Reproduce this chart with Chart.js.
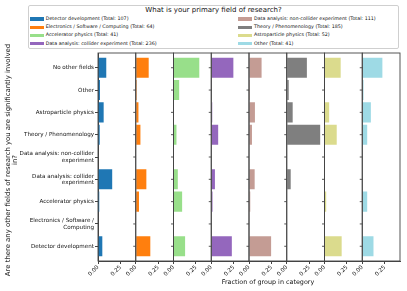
<!DOCTYPE html>
<html>
<head>
<meta charset="utf-8">
<script src="https://cdn.jsdelivr.net/npm/chart.js"></script>
<style>
  body { margin: 0; background: #fff; }
  #wrap { position: relative; width: 407px; height: 291px; font-family: "DejaVu Sans", sans-serif; color: #111; }
  #chart { position: absolute; left: 0; top: 0; }
  #legend { position: absolute; left: 28px; top: 5px; width: 371px; height: 44px; box-sizing: border-box;
            border: 1px solid #cfcfcf; border-radius: 2px; background: #fff; }
  #legend .ttl { position: absolute; left: 0; right: 0; top: 0.3px; height: 8px; line-height: 8px;
                 font-size: 7px; text-align: center; white-space: nowrap; }
  #legend .sw { position: absolute; width: 14px; height: 3.4px; }
  #legend .tx { position: absolute; height: 8px; line-height: 8px; font-size: 4.8px; white-space: nowrap; }
  #xtitle { position: absolute; left: 168px; width: 200px; top: 278px; height: 8px; line-height: 8px;
            font-size: 6.4px; text-align: center; white-space: nowrap; }
  #ytitle { position: absolute; left: 12px; top: 160px; width: 300px; transform: translate(-50%, -50%) rotate(-90deg);
            font-size: 6.9px; line-height: 7px; text-align: center; white-space: nowrap; }
</style>
</head>
<body>
<div id="wrap">
  <canvas id="chart" width="407" height="291"></canvas>
  <div id="legend"><div class="ttl">What is your primary field of research?</div></div>
  <div id="ytitle">Are there any other fields of research you are significantly involved<br>in?</div>
  <div id="xtitle">Fraction of group in category</div>
</div>
<script>
// rows, bottom to top (same order as matplotlib barh)
const categories = [
  "Detector development",
  "Electronics / Software / Computing",
  "Accelerator physics",
  "Data analysis: collider experiment",
  "Data analysis: non-collider experiment",
  "Theory / Phenomenology",
  "Astroparticle physics",
  "Other",
  "No other fields"
];
const yTickLabels = [
  ["Detector development"],
  ["Electronics / Software /", "Computing"],
  ["Accelerator physics"],
  ["Data analysis: collider", "experiment"],
  ["Data analysis: non-collider", "experiment"],
  ["Theory / Phenomenology"],
  ["Astroparticle physics"],
  ["Other"],
  ["No other fields"]
];

// primary field groups (one panel each)
const groups = [
  "Detector development",
  "Electronics / Software / Computing",
  "Accelerator physics",
  "Data analysis: collider experiment",
  "Data analysis: non-collider experiment",
  "Theory / Phenomenology",
  "Astroparticle physics",
  "Other"
];
const totals = [107, 64, 41, 236, 111, 185, 52, 41];
const colors = ["#1f77b4", "#ff7f0e", "#98df8a", "#9467bd", "#c49c94", "#7f7f7f", "#dbdb8d", "#9edae5"];

// fraction of group in category, rows bottom to top
const detectorDev = [0.048, 0, 0.014, 0.158, 0, 0.019, 0.063, 0.022, 0.092];
const electronics = [0.162, 0, 0.036, 0.118, 0, 0.052, 0.030, 0.011, 0.144];
const accelerator = [0.129, 0, 0.096, 0.048, 0, 0.033, 0, 0.063, 0.287];
const collider    = [0.229, 0, 0.014, 0.041, 0, 0.077, 0.011, 0.008, 0.246];
const nonCollider = [0.246, 0, 0.014, 0.063, 0, 0.033, 0.066, 0.011, 0.140];
const theory      = [0, 0, 0, 0.044, 0, 0.372, 0.066, 0.022, 0.224];
const astro       = [0.191, 0, 0.019, 0, 0, 0.136, 0.052, 0, 0.180];
const other       = [0.125, 0, 0.055, 0, 0, 0.055, 0.096, 0.014, 0.224];
const seriesValues = [detectorDev, electronics, accelerator, collider, nonCollider, theory, astro, other];

const xTicks = [0, 0.25];

const FONT = "DejaVu Sans";

// legend (two columns, filled column by column)
const legend = document.getElementById("legend");
const rowY = [13, 21.3, 29.3, 37.7];
groups.forEach((g, i) => {
  const col = Math.floor(i / 4), row = i % 4;
  const sw = document.createElement("div");
  sw.className = "sw";
  sw.style.left = (col ? 209 : 0.5) + "px";
  sw.style.top = (rowY[row] - 1.7) + "px";
  sw.style.background = colors[i];
  legend.appendChild(sw);
  const tx = document.createElement("div");
  tx.className = "tx";
  tx.style.left = (col ? 225 : 16.7) + "px";
  tx.style.top = (rowY[row] - 4) + "px";
  tx.textContent = g + " (Total: " + totals[i] + ")";
  legend.appendChild(tx);
});

const scales = {
  y: {
    type: "linear",
    min: -0.66,
    max: 8.66,
    offset: false, // bar charts turn this on by default, which squeezes the rows
    afterBuildTicks: s => { s.ticks = categories.map((c, i) => ({ value: i })); },
    afterFit: s => { s.width = 98; },
    ticks: {
      callback: v => yTickLabels[v],
      autoSkip: false,
      padding: 1,
      color: "#111",
      font: { family: FONT, size: 5.6, lineHeight: 1.15 }
    },
    grid: { drawOnChartArea: false, offset: false, tickLength: 3, color: "#444" },
    border: { display: true, color: "#444" }
  }
};

groups.forEach((g, i) => {
  scales["x" + i] = {
    type: "linear",
    position: "bottom",
    stack: "panels",
    stackWeight: 1,
    min: 0,
    max: 0.42,
    offset: false,
    afterBuildTicks: s => { s.ticks = xTicks.map(v => ({ value: v })); },
    afterFit: s => { s.height = 30; },
    ticks: {
      callback: v => Number(v).toFixed(2),
      minRotation: 45,
      maxRotation: 45,
      autoSkip: false,
      padding: 0,
      color: "#111",
      font: { family: FONT, size: 5.6 }
    },
    grid: { drawOnChartArea: false, tickLength: 3, color: "#444" },
    border: { display: true, color: "#444" }
  };
});

// panel frames and the small y ticks on each panel edge
const panelFrames = {
  id: "panelFrames",
  afterDraw(chart) {
    const { ctx, chartArea } = chart;
    const ys = chart.scales.y;
    ctx.save();
    ctx.strokeStyle = "#444";
    ctx.lineWidth = 0.9;
    groups.forEach((g, i) => {
      const s = chart.scales["x" + i];
      ctx.strokeRect(s.left, chartArea.top, s.right - s.left, chartArea.bottom - chartArea.top);
      if (i > 0) {
        ys.ticks.forEach(t => {
          const py = ys.getPixelForValue(t.value);
          ctx.beginPath();
          ctx.moveTo(s.left - 2.5, py);
          ctx.lineTo(s.left, py);
          ctx.stroke();
        });
      }
    });
    ctx.restore();
  }
};

new Chart(document.getElementById("chart").getContext("2d"), {
  type: "bar",
  data: {
    datasets: groups.map((g, i) => ({
      label: g,
      data: seriesValues[i].map((v, j) => ({ x: v, y: j })),
      xAxisID: "x" + i,
      yAxisID: "y",
      backgroundColor: colors[i],
      borderWidth: 0,
      grouped: false,
      categoryPercentage: 1,
      barPercentage: 0.9
    }))
  },
  options: {
    indexAxis: "y",
    responsive: false,
    animation: false,
    devicePixelRatio: 1,
    layout: { padding: { top: 53, right: 7, bottom: 0, left: 0 } },
    scales: scales,
    plugins: { legend: { display: false }, tooltip: { enabled: false } }
  },
  plugins: [panelFrames]
});
</script>
</body>
</html>
